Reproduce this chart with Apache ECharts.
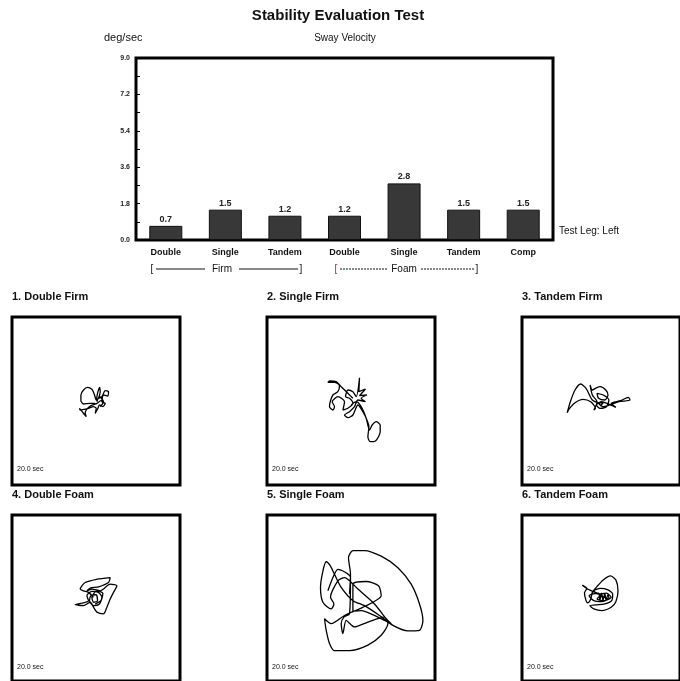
<!DOCTYPE html>
<html><head><meta charset="utf-8">
<script src="https://cdn.jsdelivr.net/npm/echarts@6/dist/echarts.min.js"></script>
<style>html,body{margin:0;padding:0;background:#fff}#c{width:680px;height:681px}</style>
</head><body><div id="c"></div>
<script>
const categories = ['Double','Single','Tandem','Double','Single','Tandem','Comp'];
const swayVelocity = [0.7, 1.5, 1.2, 1.2, 2.8, 1.5, 1.5];
const yTicks = [0.0, 1.8, 3.6, 5.4, 7.2, 9.0];
const panelTitles = ['1. Double Firm','2. Single Firm','3. Tandem Firm','4. Double Foam','5. Single Foam','6. Tandem Foam'];
const durationLabel = '20.0 sec';

const traceDoubleFirm = [[-0.8,-2.9],[-5.8,-2.9],[-12.5,-3.6],[-15.1,-0.3],[-15.1,5.4],[-12.5,10.4],[-8.5,13.1],[-4.1,11.1],[-1.8,6.4],[0.2,0.4],[1.5,7.1],[3.5,13.1],[4.2,8.7],[2.5,2.1],[5.9,3.7],[9.2,9.7],[12.5,8.7],[11.5,4.4],[7.5,5.4],[5.9,-1.3],[9.2,-2.9],[6.9,-6.3],[3.5,-4.6],[1.5,-8.9],[-0.8,-12.9],[0.2,-7.9],[-2.5,-6.3],[-7.5,-7.9],[-11.8,-8.9],[-15.8,-9.6],[-16.5,-7.9],[-13.8,-11.3],[-9.8,-16.3],[-10.8,-12.3],[-5.8,-5.6],[0.9,-2.9],[4.9,-0.3],[6.9,-2.9],[4.2,-6.3],[7.5,-1.3],[3.5,3.7],[0.9,-1.3]];
const traceSingleFirm = [[1.9,2.1],[-3.1,7.1],[-9.8,13.7],[-14.8,18.7],[-21.5,19.4],[-23.1,18.1],[-16.5,18.1],[-11.5,14.7],[-13.1,8.7],[-18.1,5.4],[-20.8,-1.3],[-21.5,-6.3],[-18.1,-9.6],[-16.5,-6.3],[-18.8,-1.3],[-13.1,3.7],[-6.5,-1.3],[-8.1,-9.6],[-3.1,-7.9],[1.9,-2.9],[-1.5,2.1],[-5.5,3.7],[-3.1,10.4],[1.9,8.7],[5.2,3.7],[8.5,22.7],[7.9,8.7],[14.5,11.4],[8.5,4.7],[15.9,5.4],[10.2,2.1],[14.5,-1.3],[6.9,0.4],[3.5,-6.3],[-1.5,-11.3],[-6.5,-14.6],[-3.1,-17.3],[1.9,-14.6],[6.9,-4.6],[11.9,-11.3],[15.9,-19.6],[17.9,-26.3],[16.9,-36.3],[19.2,-41.3],[24.5,-40.6],[29.2,-31.3],[29.2,-24.6],[25.2,-21.3],[21.2,-24.6],[18.5,-29.6],[15.2,-17.9],[10.2,-6.3],[5.2,-1.3],[0.2,-4.6]];
const traceTandemFirm = [[-0.9,-2.9],[-9.2,0.4],[-15.9,12.1],[-21.6,16.4],[-27.6,10.4],[-32.6,-1.3],[-35.9,-12.3],[-34.2,-8.9],[-27.6,-2.3],[-19.2,1.1],[-10.9,-1.3],[-5.9,-7.9],[-7.6,-9.6],[-4.2,-1.3],[-9.2,5.4],[-11.6,15.4],[-9.2,10.4],[-5.9,12.1],[-0.9,13.7],[5.1,10.4],[7.4,5.4],[4.1,0.4],[-2.6,2.1],[-4.2,7.1],[2.4,5.4],[8.4,0.4],[5.8,-6.3],[-0.9,-7.9],[-4.9,-4.6],[0.8,-1.3],[6.4,-2.9],[15.8,-6.9],[10.8,-2.9],[20.8,-0.3],[29.1,3.1],[30.8,0.4],[19.1,-1.3],[9.1,-4.6],[2.4,-6.3],[-2.6,-2.9],[2.4,-2.3],[-0.9,-5.6]];
const traceDoubleFoam = [[-2.5,-1.8],[-7.5,3.2],[-12.5,4.8],[-15.8,6.5],[-10.8,13.2],[0.9,16.5],[14.2,18.2],[12.5,13.2],[2.5,8.8],[-5.8,7.5],[-9.1,4.8],[-4.1,6.5],[4.2,4.8],[14.2,11.5],[20.9,9.8],[17.5,3.2],[14.2,-3.5],[10.9,-11.8],[7.5,-18.5],[0.9,-16.8],[-2.5,-11.8],[-5.8,-6.8],[-12.5,-10.2],[-20.8,-9.2],[-14.1,-7.8],[-7.5,-5.2],[-9.1,-0.2],[-4.1,4.2],[2.5,3.2],[5.9,-1.8],[3.5,-8.5],[-2.5,-10.2],[-6.5,-5.2],[-5.1,-0.2],[0.2,0.8],[1.5,-5.2],[-2.5,-6.8],[-4.1,-1.8],[0.9,4.8],[6.9,2.2],[4.9,-5.2],[-0.8,-8.5]];
const traceSingleFoam = [[-1.5,1.5],[-0.5,21.5],[-2.5,38.2],[1.9,45.5],[13.5,45.5],[30.2,39.8],[46.9,28.2],[60.2,11.5],[68.5,-8.5],[71.9,-25.2],[68.5,-35.2],[56.9,-35.8],[41.9,-30.2],[28.5,-20.2],[13.5,-10.2],[1.9,-5.2],[-9.8,8.2],[-16.5,21.5],[-20.5,29.8],[-24.8,34.2],[-28.1,24.8],[-30.5,8.2],[-28.1,-6.8],[-19.8,-13.5],[-17.1,-8.5],[-20.5,-1.8],[-13.1,14.8],[-6.5,18.2],[6.9,6.5],[23.5,-8.5],[35.2,-23.5],[40.2,-28.5],[26.9,-21.8],[10.2,-15.2],[1.9,-15.8],[1.9,11.5],[15.2,14.2],[27.5,9.8],[30.2,-0.2],[21.9,-6.8],[8.5,-13.5],[-6.5,-20.2],[-19.8,-28.5],[-26.5,-23.5],[-24.8,-35.2],[-21.5,-48.5],[-16.5,-55.8],[-1.5,-55.8],[16.9,-50.2],[30.2,-40.2],[36.9,-28.5],[33.5,-21.8],[16.9,-26.8],[3.5,-31.8],[-4.8,-25.2],[-8.1,-38.5],[-9.8,-28.5],[-7.1,-21.8],[-1.5,-18.5],[-0.5,18.2],[-13.1,26.5],[-18.1,18.2],[-23.1,4.8]];
const traceTandemFoam = [[0.8,-0.2],[-5.9,3.2],[-12.6,5.8],[-19.9,10.5],[-15.2,7.2],[-17.6,2.5],[-15.9,-5.2],[-14.2,-7.5],[-10.9,-3.5],[-9.2,3.2],[-4.2,9.2],[2.4,15.8],[10.1,19.8],[15.8,15.8],[18.1,4.8],[15.8,-6.2],[10.8,-11.8],[0.8,-15.2],[-7.6,-13.5],[-11.9,-10.2],[-5.9,-9.5],[4.1,-8.5],[11.4,-5.2],[12.4,1.5],[7.4,5.8],[-0.9,7.2],[-7.6,4.8],[-2.6,1.5],[5.8,2.5],[10.8,-1.8],[3.4,-5.2],[-4.2,-3.5],[-0.9,-0.8],[7.4,-3.5],[0.8,-6.2],[-7.6,-5.2],[-12.6,-0.2],[-2.6,2.5],[-1.2,-4.2],[0.8,2.5],[2.1,-4.8],[4.1,1.8],[5.4,-4.8],[7.4,1.2],[8.8,-4.2]];
const traces = [traceDoubleFirm, traceSingleFirm, traceTandemFirm, traceDoubleFoam, traceSingleFoam, traceTandemFoam];

const chart = echarts.init(document.getElementById('c'), null, {renderer: 'canvas'});
const FONT = "'Liberation Sans', Arial, sans-serif";

const panelLefts = [12, 267, 522];
const panelTops = [317, 515];
const PW = 168, PH = 168;

const grids = [{left:136, top:58, width:417, height:182, show:true, borderColor:'#000', borderWidth:3, backgroundColor:'rgba(0,0,0,0)'}];
const xAxes = [{gridIndex:0, type:'category', data:categories,
  axisLine:{show:false}, axisTick:{show:false},
  axisLabel:{fontSize:9, fontWeight:'bold', color:'#111', margin:8, fontFamily:FONT}}];
const yAxes = [{gridIndex:0, type:'value', min:yTicks[0], max:yTicks[yTicks.length-1], interval:yTicks[1]-yTicks[0],
  axisLine:{show:false}, splitLine:{show:false},
  axisTick:{show:true, inside:true, length:4, lineStyle:{color:'#000'}},
  minorTick:{show:true, splitNumber:2, length:4, lineStyle:{color:'#000'}},
  axisLabel:{fontSize:7, fontWeight:'bold', color:'#222', margin:6, fontFamily:FONT, formatter:v=>v.toFixed(1)}}];
const series = [{type:'bar', xAxisIndex:0, yAxisIndex:0, data:swayVelocity, barWidth:33,
  itemStyle:{color:'#383838', borderColor:'#111', borderWidth:1},
  label:{show:true, position:'top', distance:2, fontSize:9, fontWeight:'bold', color:'#222', fontFamily:FONT, formatter:p=>p.value.toFixed(1)}}];

const graphics = [];
traces.forEach((tr, i) => {
  const row = Math.floor(i/3), col = i%3;
  const gi = i+1;
  grids.push({left:panelLefts[col], top:panelTops[row], width:PW, height:PH, show:true, borderColor:'#000', borderWidth:3, backgroundColor:'rgba(0,0,0,0)'});
  xAxes.push({gridIndex:gi, type:'value', min:-84, max:84, show:false});
  yAxes.push(row === 0 ? {gridIndex:gi, type:'value', min:-84.6, max:83.4, show:false}
                       : {gridIndex:gi, type:'value', min:-86.5, max:81.5, show:false});
  series.push({type:'line', xAxisIndex:gi, yAxisIndex:gi, data:tr, showSymbol:false, smooth:0.25,
    lineStyle:{color:'#000', width:1.3}, silent:true});
  graphics.push({type:'text', x:panelLefts[col], y:panelTops[row]-20,
    style:{text:panelTitles[i], font:'bold 11px '+FONT, fill:'#111', textAlign:'left', align:'left', textVerticalAlign:'middle', verticalAlign:'middle'}});
  graphics.push({type:'text', x:panelLefts[col]+5, y:panelTops[row]+152,
    style:{text:durationLabel, font:'7px '+FONT, fill:'#111', textAlign:'left', align:'left', textVerticalAlign:'middle', verticalAlign:'middle'}});
});

function txt(x, y, text, font, align, fill){
  return {type:'text', x, y, style:{text, font, fill:fill||'#111', textAlign:align, align, textVerticalAlign:'middle', verticalAlign:'middle'}};
}
graphics.push(txt(338, 16, 'Stability Evaluation Test', 'bold 15px '+FONT, 'center', '#111'));
graphics.push(txt(104, 38, 'deg/sec', '11px '+FONT, 'left'));
graphics.push(txt(345, 38, 'Sway Velocity', '10px '+FONT, 'center'));
graphics.push(txt(559, 231, 'Test Leg: Left', '10px '+FONT, 'left'));
graphics.push(txt(152, 269, '[', '10px '+FONT, 'center'));
graphics.push({type:'line', shape:{x1:156, y1:269, x2:205, y2:269}, style:{stroke:'#111', lineWidth:1}});
graphics.push(txt(222, 269, 'Firm', '10px '+FONT, 'center'));
graphics.push({type:'line', shape:{x1:239, y1:269, x2:298, y2:269}, style:{stroke:'#111', lineWidth:1}});
graphics.push(txt(301, 269, ']', '10px '+FONT, 'center'));
graphics.push(txt(336, 269, '[', '10px '+FONT, 'center', '#a03030'));
graphics.push({type:'line', shape:{x1:340, y1:269, x2:388, y2:269}, style:{stroke:'#111', lineWidth:1, lineDash:[2,1]}});
graphics.push(txt(404, 269, 'Foam', '10px '+FONT, 'center'));
graphics.push({type:'line', shape:{x1:421, y1:269, x2:474, y2:269}, style:{stroke:'#111', lineWidth:1, lineDash:[2,1]}});
graphics.push(txt(477, 269, ']', '10px '+FONT, 'center'));

chart.setOption({
  animation:false,
  backgroundColor:'#fff',
  grid:grids, xAxis:xAxes, yAxis:yAxes, series, graphic:graphics
});
</script></body></html>
